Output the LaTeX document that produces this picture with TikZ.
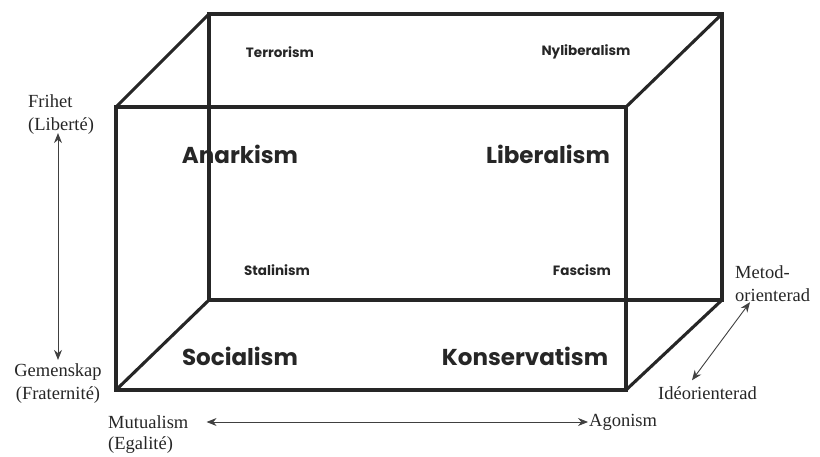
\documentclass[tikz,border=0pt]{standalone}
\usepackage{fontspec}
\setmainfont{Liberation Serif}
\newfontfamily\gothic{Poppins}
\usepackage{tikz}
\usetikzlibrary{arrows.meta, positioning}
\tikzset{
    edge/.style = {line width=3.1pt, line join=miter, draw=black!85},
    axis/.style = {line width=0.9pt, draw=black!75, {Stealth[length=10pt,width=8pt]}-{Stealth[length=10pt,width=8pt]}},
    big/.style = {font=\gothic\fontsize{23}{27}\selectfont\bfseries, text=black!85, inner sep=0pt},
    small/.style = {font=\gothic\fontsize{13.5}{16}\selectfont\bfseries, text=black!85, inner sep=0pt},
    dim/.style = {font=\fontsize{18.5}{23}\selectfont, text=black!85, inner sep=2pt, align=left}
}

\begin{document}
\begin{tikzpicture}[x=1pt, y=-1pt]
    \useasboundingbox (0,0) rectangle (820,457);

    % Box corners
    \coordinate (fa) at (116,107);
    \coordinate (fb) at (626,107);
    \coordinate (fc) at (626,390);
    \coordinate (fd) at (116,390);
    \coordinate (ba) at (209,14);
    \coordinate (bb) at (722,14);
    \coordinate (bc) at (722,300);
    \coordinate (bd) at (209,300);

    % Box
    \draw[edge] (fa) -- (fb) -- (fc) -- (fd) -- cycle;
    \draw[edge] (ba) -- (bb) -- (bc) -- (bd) -- cycle;
    \draw[edge] (fa) -- (ba);
    \draw[edge] (fb) -- (bb);
    \draw[edge] (fc) -- (bc);
    \draw[edge] (fd) -- (bd);

    % Ideologies
    \node[small] (terror) at (280,52) {Terrorism};
    \node[small] (nylib) at (586,52) {Nyliberalism};
    \node[big] (anark) at (240,154) {Anarkism};
    \node[big] (lib) at (548,154) {Liberalism};
    \node[small] (stalin) at (277,270) {Stalinism};
    \node[small] (fasc) at (582,270) {Fascism};
    \node[big] (soc) at (240,356) {Socialism};
    \node[big] (kons) at (525,356) {Konservatism};

    % Axis labels
    \node[dim, anchor=west] (frihet) at (26,115) {Frihet\\(Libert\'e)};
    \node[dim, align=center] (gemen) at (58,384) {Gemenskap\\(Fraternit\'e)};
    \node[dim, anchor=west] (mutual) at (106,422) {Mutualism};
    \node[dim, anchor=west] (egal) at (106,445) {(Egalit\'e)};
    \node[dim, anchor=west] (agon) at (587,422) {Agonism};
    \node[dim, anchor=west] (metod) at (733,284) {Metod-\\orienterad};
    \node[dim, anchor=west] (ideo) at (656,393) {Id\'eorienterad};

    % Axes
    \draw[axis] ([yshift=4pt]frihet.south -| gemen.north) -- ([yshift=2pt]gemen.north);
    \draw[axis] ([xshift=16pt]mutual.east) -- ([xshift=1pt]agon.west);
    \draw[axis] ([xshift=36pt,yshift=4pt]ideo.north west) -- ([xshift=17pt,yshift=2pt]metod.south west);
\end{tikzpicture}
\end{document}
